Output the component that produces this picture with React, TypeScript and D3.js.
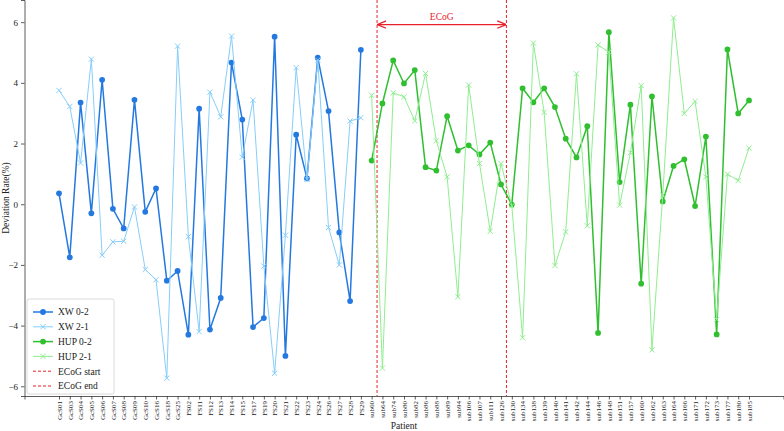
import { useRef, useEffect } from "react";
import { select, scaleLinear, line, axisBottom, axisLeft, symbol, symbolCircle } from "d3";

const xwPatients = ["GcS01","GcS03","GcS04","GcS05","GcS06","GcS07","GcS08","GcS09","GcS10","GcS16","GcS18","GcS25",
  "FS02","FS11","FS12","FS13","FS14","FS15","FS17","FS19","FS20","FS21","FS22","FS23","FS24","FS26","FS27","FS28","FS29"];
const hupPatients = ["sub60","sub64","sub74","sub80","sub82","sub86","sub88","sub89","sub94","sub106","sub107","sub111",
  "sub126","sub130","sub134","sub138","sub139","sub140","sub141","sub142","sub144","sub146","sub148","sub151","sub157",
  "sub160","sub162","sub163","sub164","sub166","sub171","sub172","sub173","sub177","sub180","sub185"];

const xw02 = [0.36, -1.75, 3.35, -0.3, 4.1, -0.15, -0.8, 3.44, -0.25, 0.52, -2.52, -2.2, -4.3, 3.15, -4.13, -3.09,
  4.67, 2.79, -4.05, -3.75, 5.52, -5.0, 2.29, 0.85, 4.83, 3.07, -0.93, -3.19, 5.09];
const xw21 = [3.75, 3.22, 1.36, 4.78, -1.68, -1.24, -1.22, -0.09, -2.15, -2.49, -5.73, 5.21, -1.07, -4.2, 3.69, 2.88,
  5.54, 1.55, 3.43, -2.04, -5.57, -1.02, 4.5, 0.82, 4.75, -0.77, -2.0, 2.74, 2.85];
const hup02 = [1.44, 3.32, 4.74, 3.98, 4.42, 1.22, 1.11, 2.9, 1.77, 1.94, 1.64, 2.03, 0.65, -0.01, 3.82, 3.36, 3.82,
  3.2, 2.16, 1.54, 2.57, -4.24, 5.67, 0.73, 3.28, -2.62, 3.55, 0.09, 1.26, 1.48, -0.06, 2.23, -4.29, 5.1, 2.99, 3.42];
const hup21 = [3.59, -5.4, 3.67, 3.54, 2.75, 4.31, 2.09, 0.9, -3.05, 3.93, 1.34, -0.89, 1.34, -0.05, -4.4, 5.31, 3.03,
  -2.02, -0.91, 4.3, -0.71, 5.25, 5.01, -0.03, 1.7, 3.91, -4.8, 0.3, 6.14, 2.99, 3.39, 0.9, -3.8, 0.99, 0.78, 1.85];

const yTicks = [-6, -4, -2, 0, 2, 4, 6];
const ecogFirst = "sub64";
const ecogLast = "sub126";

const patients = [...xwPatients, ...hupPatients];

const W = 784, H = 431;
const left = 24.5, right = 783.5, top = 0, bottom = 396;
const FONT = "Liberation Serif, Times New Roman, serif";

export default function App() {
  const svgRef = useRef(null);

  useEffect(() => {
    const svg = select(svgRef.current);
    svg.selectAll("*").remove();

    const n = patients.length;
    const pad = (n - 1) * 0.05;
    const x = scaleLinear().domain([-pad, n - 1 + pad]).range([left, right]);
    const y = scaleLinear().domain([-6.32, 6.73]).range([bottom, top]);

    const series = [
      { name: "XW 0-2", offset: 0, values: xw02, color: "#2479e0", width: 1.5, marker: "circle" },
      { name: "XW 2-1", offset: 0, values: xw21, color: "#87cefa", width: 1, marker: "x" },
      { name: "HUP 0-2", offset: xwPatients.length, values: hup02, color: "#2fbf2f", width: 1.5, marker: "circle" },
      { name: "HUP 2-1", offset: xwPatients.length, values: hup21, color: "#90ee90", width: 1, marker: "x" },
    ];

    // axes
    const xAxis = axisBottom(x)
      .tickValues(patients.map((_, i) => i))
      .tickFormat((i) => patients[i as number])
      .tickSizeOuter(0)
      .tickSize(3.5);
    const gx = svg.append("g").attr("transform", `translate(0,${bottom})`).call(xAxis);
    gx.select(".domain").attr("stroke", "#333").attr("stroke-width", 0.8);
    gx.selectAll(".tick line").attr("stroke", "#333").attr("stroke-width", 0.8);
    gx.selectAll(".tick text")
      .attr("font-family", FONT)
      .attr("font-size", 7)
      .attr("fill", "#222")
      .attr("text-anchor", "end")
      .attr("dy", "0.32em")
      .attr("transform", "translate(0,5) rotate(-90)")
      .attr("x", 0)
      .attr("y", 0);

    const yAxis = axisLeft(y).tickValues(yTicks).tickFormat((d) => `${d}`.replace("-", "\u2212")).tickSizeOuter(0).tickSize(3.5);
    const gy = svg.append("g").attr("transform", `translate(${left},0)`).call(yAxis);
    gy.select(".domain").attr("stroke", "#333").attr("stroke-width", 0.8);
    gy.selectAll(".tick line").attr("stroke", "#333").attr("stroke-width", 0.8);
    gy.selectAll(".tick text").attr("font-family", FONT).attr("font-size", 9).attr("fill", "#222");

    svg.append("text")
      .attr("transform", `translate(9,${(top + bottom) / 2}) rotate(-90)`)
      .attr("text-anchor", "middle")
      .attr("font-family", FONT).attr("font-size", 9.5).attr("fill", "#222")
      .text("Deviation Rate(%)");
    svg.append("text")
      .attr("x", (left + right) / 2).attr("y", 429)
      .attr("text-anchor", "middle")
      .attr("font-family", FONT).attr("font-size", 9.5).attr("fill", "#222")
      .text("Patient");

    // ECoG region
    const xs = x(patients.indexOf(ecogFirst) - 0.5);
    const xe = x(patients.indexOf(ecogLast) + 0.5);
    [xs, xe].forEach((xv) => {
      svg.append("line")
        .attr("x1", xv).attr("x2", xv).attr("y1", top).attr("y2", bottom)
        .attr("stroke", "#e8212b").attr("stroke-width", 1).attr("stroke-dasharray", "3,2");
    });
    const defs = svg.append("defs");
    defs.append("marker")
      .attr("id", "arr").attr("viewBox", "0 0 10 10").attr("refX", 9).attr("refY", 5)
      .attr("markerWidth", 7).attr("markerHeight", 7).attr("orient", "auto-start-reverse")
      .append("path").attr("d", "M0,1 L10,5 L0,9").attr("fill", "none").attr("stroke", "#e8212b").attr("stroke-width", 1.4);
    svg.append("line")
      .attr("x1", xs + 1).attr("x2", xe - 1).attr("y1", y(5.92)).attr("y2", y(5.92))
      .attr("stroke", "#e8212b").attr("stroke-width", 1.3)
      .attr("marker-start", "url(#arr)").attr("marker-end", "url(#arr)");
    svg.append("text")
      .attr("x", (xs + xe) / 2).attr("y", 20)
      .attr("text-anchor", "middle")
      .attr("font-family", FONT).attr("font-size", 9.5).attr("fill", "#e8212b")
      .text("ECoG");

    // series
    const circle = symbol().type(symbolCircle).size(26);
    series.forEach((s) => {
      const pts = s.values.map((v, i) => [x(s.offset + i), y(v)] as [number, number]);
      svg.append("path")
        .attr("d", line()(pts))
        .attr("fill", "none").attr("stroke", s.color).attr("stroke-width", s.width);
      const g = svg.append("g");
      pts.forEach(([px, py]) => {
        if (s.marker === "circle") {
          g.append("path").attr("d", circle()).attr("transform", `translate(${px},${py})`).attr("fill", s.color);
        } else {
          g.append("path")
            .attr("d", `M${px - 2.6},${py - 2.6}L${px + 2.6},${py + 2.6}M${px - 2.6},${py + 2.6}L${px + 2.6},${py - 2.6}`)
            .attr("stroke", s.color).attr("stroke-width", 1);
        }
      });
    });

    // legend
    const lg = svg.append("g").attr("transform", "translate(27,299)");
    lg.append("rect").attr("width", 87).attr("height", 95).attr("rx", 2)
      .attr("fill", "white").attr("fill-opacity", 0.85).attr("stroke", "#d0d0d0").attr("stroke-width", 0.8);
    const items = [
      ...series.map((s) => ({ name: s.name, color: s.color, width: s.width, marker: s.marker, dash: null as string | null })),
      { name: "ECoG start", color: "#e8212b", width: 1, marker: "none", dash: "3,2" },
      { name: "ECoG end", color: "#e8212b", width: 1, marker: "none", dash: "3,2" },
    ];
    items.forEach((it, i) => {
      const cy = 13 + i * 14.8;
      lg.append("line").attr("x1", 6).attr("x2", 26).attr("y1", cy).attr("y2", cy)
        .attr("stroke", it.color).attr("stroke-width", it.width)
        .attr("stroke-dasharray", it.dash);
      if (it.marker === "circle") {
        lg.append("path").attr("d", circle()).attr("transform", `translate(16,${cy})`).attr("fill", it.color);
      } else if (it.marker === "x") {
        lg.append("path").attr("d", `M13.4,${cy - 2.6}L18.6,${cy + 2.6}M13.4,${cy + 2.6}L18.6,${cy - 2.6}`)
          .attr("stroke", it.color).attr("stroke-width", 1);
      }
      lg.append("text").attr("x", 31).attr("y", cy).attr("dy", "0.35em")
        .attr("font-family", FONT).attr("font-size", 9.5).attr("fill", "#222")
        .text(it.name);
    });
  }, []);

  return (
    <svg ref={svgRef} width={W} height={H} style={{ position: "absolute", left: 0, top: 0, background: "white" }} />
  );
}
